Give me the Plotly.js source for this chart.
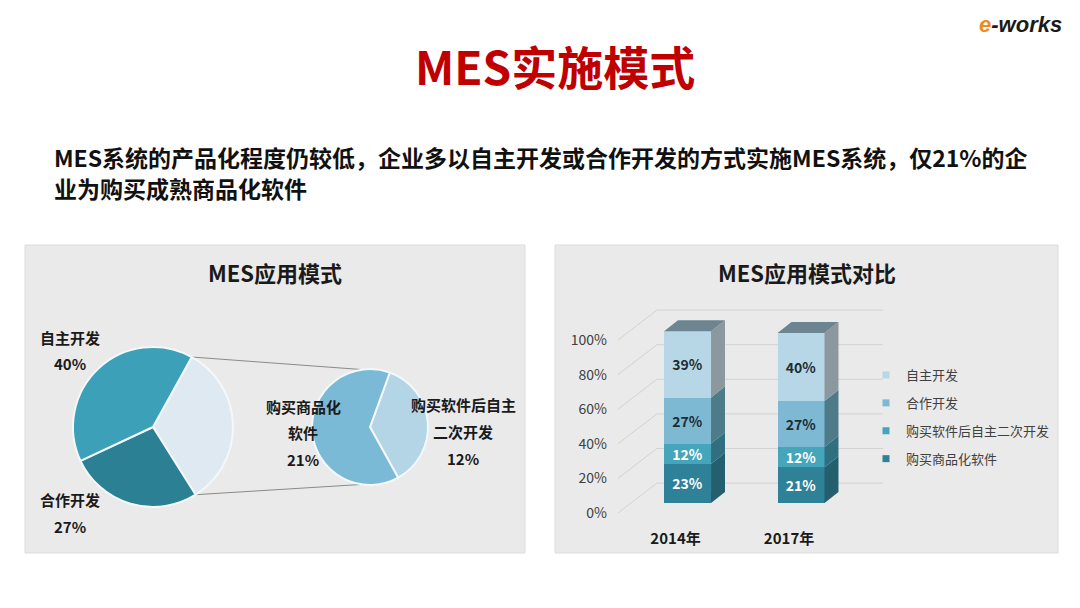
<!DOCTYPE html>
<html>
<head>
<meta charset="utf-8">
<script src="https://cdn.plot.ly/plotly-3.0.1.min.js"></script>
<style>html,body{margin:0;padding:0;background:#fff}</style>
</head>
<body>
<div id="chart" style="width:1080px;height:608px"></div>
<script>
// MES应用模式 (pie)
var modeLabels = ['自主开发', '合作开发', '购买商品化软件', '购买软件后自主二次开发'];
var modeValues = [40, 27, 21, 12];

// MES应用模式对比 (stacked bars)
var years = ['2014年', '2017年'];
var seriesNames = ['购买商品化软件', '购买软件后自主二次开发', '合作开发', '自主开发'];
var buyProduct = [23, 21];
var buySecondDev = [12, 12];
var coopDev = [27, 27];
var selfDev = [39, 40];
var yTicks = [0, 20, 40, 60, 80, 100];

var FONT = 'Noto Sans CJK SC, sans-serif';
function px(x) { return x / 1080; }
function py(y) { return 1 - y / 608; }

// ---------- pies ----------
var big = { cx: 153, cy: 427, r: 80, rot: 29 };
var small = { cx: 370, cy: 427, r: 58, rot: 20 };
var otherShare = modeValues[2] + modeValues[3];

var bigPie = {
    type: 'pie',
    values: [otherShare, modeValues[1], modeValues[0]],
    labels: ['其他', modeLabels[1], modeLabels[0]],
    marker: { colors: ['#dfe9f1', '#2c8094', '#3da0b9'], line: { color: '#f4f8fa', width: 2 } },
    sort: false, direction: 'clockwise', rotation: big.rot,
    textinfo: 'none', hoverinfo: 'skip', showlegend: false,
    domain: { x: [px(big.cx - big.r), px(big.cx + big.r)], y: [py(big.cy + big.r), py(big.cy - big.r)] }
};
var smallPie = {
    type: 'pie',
    values: [modeValues[3], modeValues[2]],
    labels: [modeLabels[3], modeLabels[2]],
    marker: { colors: ['#b4d5e6', '#7bbad6'], line: { color: '#f4f8fa', width: 2 } },
    sort: false, direction: 'clockwise', rotation: small.rot,
    textinfo: 'none', hoverinfo: 'skip', showlegend: false,
    domain: { x: [px(small.cx - small.r), px(small.cx + small.r)], y: [py(small.cy + small.r), py(small.cy - small.r)] }
};

function onCircle(c, deg) {
    var a = deg * Math.PI / 180;
    return [c.cx + c.r * Math.sin(a), c.cy - c.r * Math.cos(a)];
}
var p1 = onCircle(big, big.rot);
var p2 = onCircle(big, big.rot + otherShare / 100 * 360);
var q1 = onCircle(small, -8);
var q2 = onCircle(small, 188);

// ---------- 3D stacked bars ----------
var barW = 0.414, depthX = 0.123, depthY = 6.5;
var stack = [buyProduct, buySecondDev, coopDev, selfDev];
var frontColors = ['#2e8197', '#44a5bb', '#7db9d3', '#b7d7e6'];
var sideColors = ['#245f6e', '#2f6f7f', '#4d7b87', '#8b989e'];
var textColors = ['#ffffff', '#ffffff', '#1d2b33', '#1d2b33'];
var xs = years.map(function (_, i) { return i; });

var traces = [];

// perspective grid (on the label axis)
var gx = [], gy = [];
yTicks.forEach(function (v) {
    gx.push(-0.613, -0.269, 1.722, null);
    gy.push(v, v + 17.3, v + 17.3, null);
});
traces.push({
    type: 'scatter', mode: 'lines', x: gx, y: gy, xaxis: 'x', yaxis: 'y',
    line: { color: '#d2d2d2', width: 1 }, hoverinfo: 'skip', showlegend: false
});

stack.forEach(function (vals, s) {
    traces.push({
        type: 'bar', x: xs, y: vals, width: barW, xaxis: 'x', yaxis: 'y2',
        name: seriesNames[s], showlegend: false,
        marker: { color: frontColors[s], line: { width: 0 } },
        texttemplate: '%{y}%', textposition: 'inside', insidetextanchor: 'middle', textangle: 0,
        textfont: { family: FONT, size: 14, weight: 'bold', color: textColors[s] },
        hoverinfo: 'skip'
    });
});

// side and top faces
xs.forEach(function (xi, j) {
    var base = 0, xr = xi + barW / 2;
    stack.forEach(function (vals, s) {
        var top = base + vals[j];
        traces.push({
            type: 'scatter', mode: 'lines', fill: 'toself', xaxis: 'x', yaxis: 'y2',
            x: [xr, xr + depthX, xr + depthX, xr, xr],
            y: [base, base + depthY, top + depthY, top, base],
            fillcolor: sideColors[s], line: { width: 0 }, hoverinfo: 'skip', showlegend: false
        });
        base = top;
    });
    traces.push({
        type: 'scatter', mode: 'lines', fill: 'toself', xaxis: 'x', yaxis: 'y2',
        x: [xi - barW / 2, xi - barW / 2 + depthX, xr + depthX, xr, xi - barW / 2],
        y: [base, base + depthY, base + depthY, base, base],
        fillcolor: '#6d8591', line: { width: 0 }, hoverinfo: 'skip', showlegend: false
    });
});

// legend entries (top to bottom)
[3, 2, 1, 0].forEach(function (s) {
    traces.push({
        type: 'scatter', mode: 'markers', x: [null], y: [null], xaxis: 'x', yaxis: 'y2',
        name: seriesNames[s], legendgroup: 'g' + s,
        marker: { symbol: 'square', size: 7, color: frontColors[s] }
    });
});

traces.push(bigPie, smallPie);

// ---------- annotations ----------
var ann = [];
function text(x, y, t, size, opts) {
    opts = opts || {};
    ann.push({
        xref: 'paper', yref: 'paper', x: px(x), y: py(y), text: t, showarrow: false,
        xanchor: opts.anchor || 'center', yanchor: 'middle',
        font: { family: opts.family || FONT, size: size, color: opts.color || '#1a1a1a', weight: opts.weight || 'bold' }
    });
}
text(555, 65, 'MES实施模式', 46, { color: '#c00000' });
text(52, 157, 'MES系统的产品化程度仍较低，企业多以自主开发或合作开发的方式实施MES系统，仅21%的企', 23, { anchor: 'left', color: '#111' });
text(52, 188, '业为购买成熟商品化软件', 23, { anchor: 'left', color: '#111' });
text(275, 272, 'MES应用模式', 22);
text(807, 272, 'MES应用模式对比', 22);
text(1020, 24, '<i><span style="color:#ee8a1e">e</span>-works</i>', 22, { family: 'Liberation Sans, Arial, sans-serif' });

var labelSpots = [[70, 337], [70, 500], [303, 406], [463, 405]];
var wrapAt = [0, 0, 5, 7];
modeLabels.forEach(function (name, i) {
    var lines = wrapAt[i] ? [name.slice(0, wrapAt[i]), name.slice(wrapAt[i])] : [name];
    lines.push(modeValues[i] + '%');
    lines.forEach(function (ln, k) {
        text(labelSpots[i][0], labelSpots[i][1] + k * 26.5, ln, 15);
    });
});

var layout = {
    width: 1080, height: 608,
    margin: { t: 0, r: 0, b: 0, l: 0 },
    paper_bgcolor: '#ffffff', plot_bgcolor: 'rgba(0,0,0,0)',
    barmode: 'stack', bargap: 0,
    uniformtext: { minsize: 14, mode: 'show' },
    font: { family: FONT },
    xaxis: {
        domain: [px(614), px(890)], range: [-0.648, 1.784], anchor: 'y',
        showgrid: false, zeroline: false, showline: false, ticks: '',
        tickvals: xs, ticktext: years, ticklabelshift: -12, ticklabelstandoff: 8,
        tickfont: { family: FONT, size: 15, weight: 'bold', color: '#1a1a1a' }
    },
    yaxis: {
        domain: [py(520), py(300)], range: [-4.05, 123.12], anchor: 'x',
        showgrid: false, zeroline: false, showline: false, ticks: '',
        tickvals: yTicks, ticktext: yTicks.map(function (v) { return v + '%'; }),
        ticklabelstandoff: 6,
        tickfont: { family: FONT, size: 14, color: '#404040' }
    },
    yaxis2: { overlaying: 'y', range: [-10, 119.41], visible: false, showgrid: false, zeroline: false },
    showlegend: true,
    legend: {
        x: px(866), y: py(360), xanchor: 'left', yanchor: 'top',
        bgcolor: 'rgba(0,0,0,0)', traceorder: 'grouped', tracegroupgap: 8, itemwidth: 30,
        font: { family: FONT, size: 13, color: '#404040' }
    },
    shapes: [
        { type: 'rect', layer: 'below', xref: 'paper', yref: 'paper', x0: px(25), x1: px(525), y0: py(553), y1: py(245),
          fillcolor: '#eaeaea', line: { color: '#dcdcdc', width: 1 } },
        { type: 'rect', layer: 'below', xref: 'paper', yref: 'paper', x0: px(555), x1: px(1058), y0: py(553), y1: py(245),
          fillcolor: '#eaeaea', line: { color: '#dcdcdc', width: 1 } },
        { type: 'line', layer: 'below', xref: 'paper', yref: 'paper', x0: px(p1[0]), y0: py(p1[1]), x1: px(q1[0]), y1: py(q1[1]),
          line: { color: '#8a8a8a', width: 1 } },
        { type: 'line', layer: 'below', xref: 'paper', yref: 'paper', x0: px(p2[0]), y0: py(p2[1]), x1: px(q2[0]), y1: py(q2[1]),
          line: { color: '#8a8a8a', width: 1 } }
    ],
    annotations: ann
};

Plotly.newPlot('chart', traces, layout, { displayModeBar: false, staticPlot: true });
</script>
</body>
</html>
